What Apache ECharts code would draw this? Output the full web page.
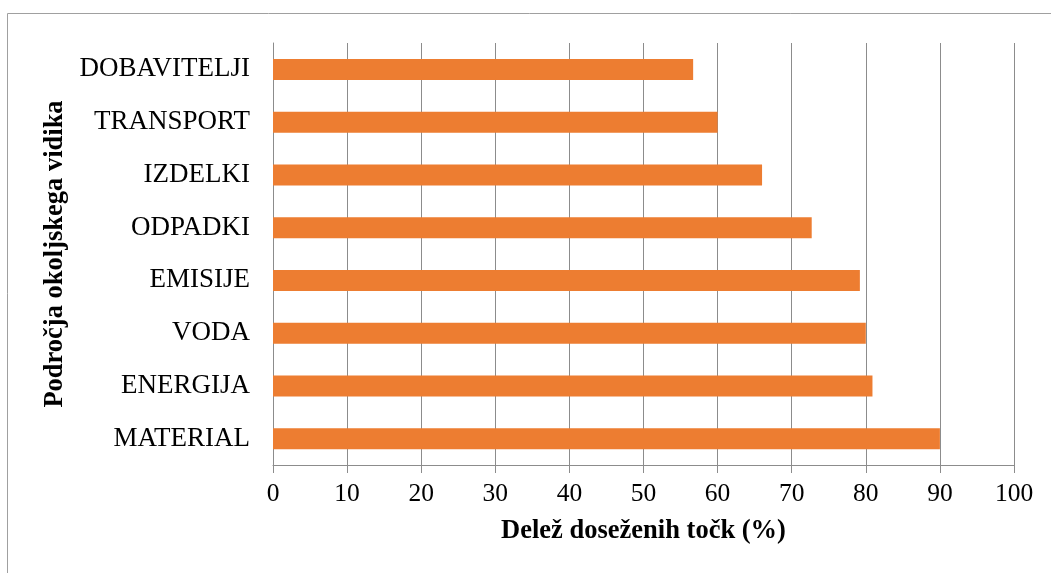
<!DOCTYPE html>
<html>
<head>
<meta charset="utf-8">
<script src="https://cdn.jsdelivr.net/npm/echarts@6/dist/echarts.min.js"></script>
<style>
html,body{margin:0;padding:0;background:#fff;}
#chart{width:1051px;height:573px;}
</style>
</head>
<body>
<div id="chart"></div>
<script>
const categories = ['MATERIAL','ENERGIJA','VODA','EMISIJE','ODPADKI','IZDELKI','TRANSPORT','DOBAVITELJI'];
const values = [90, 80.9, 80, 79.2, 72.7, 66, 60, 56.7];
const xTicks = [0,10,20,30,40,50,60,70,80,90,100];
const xTitle = 'Delež doseženih točk (%)';
const yTitle = 'Področja okoljskega vidika';

const chart = echarts.init(document.getElementById('chart'));
const serif = '"Liberation Serif","Times New Roman",serif';
chart.setOption({
  animation:false,
  graphic:[{type:'rect',shape:{x:7.5,y:13.5,width:1100,height:700},style:{fill:'none',stroke:'#a0a0a0',lineWidth:1},silent:true}],
  grid:{left:273,right:37,top:43,bottom:108,containLabel:false},
  xAxis:{
    type:'value',min:xTicks[0],max:xTicks[xTicks.length-1],interval:10,
    name:xTitle,nameLocation:'middle',nameGap:53,
    nameTextStyle:{fontFamily:serif,fontSize:26.5,fontWeight:'bold',color:'#000'},
    axisLine:{show:true,lineStyle:{color:'#8c8c8c',width:1}},
    axisTick:{show:true,length:8,lineStyle:{color:'#8c8c8c'}},
    axisLabel:{fontFamily:serif,fontSize:25.5,color:'#000',margin:16},
    splitLine:{show:true,lineStyle:{color:'#8c8c8c',width:1}}
  },
  yAxis:{
    type:'category',data:categories,
    name:yTitle,nameLocation:'middle',nameGap:198,nameRotate:90,
    nameTextStyle:{fontFamily:serif,fontSize:26.5,fontWeight:'bold',color:'#000'},
    axisLine:{show:true,lineStyle:{color:'#8c8c8c',width:1}},
    axisTick:{show:false},
    axisLabel:{fontFamily:serif,fontSize:27,color:'#000',margin:23}
  },
  series:[{type:'bar',data:values,barWidth:21,itemStyle:{color:'#ED7D31'}}]
});
</script>
</body>
</html>
